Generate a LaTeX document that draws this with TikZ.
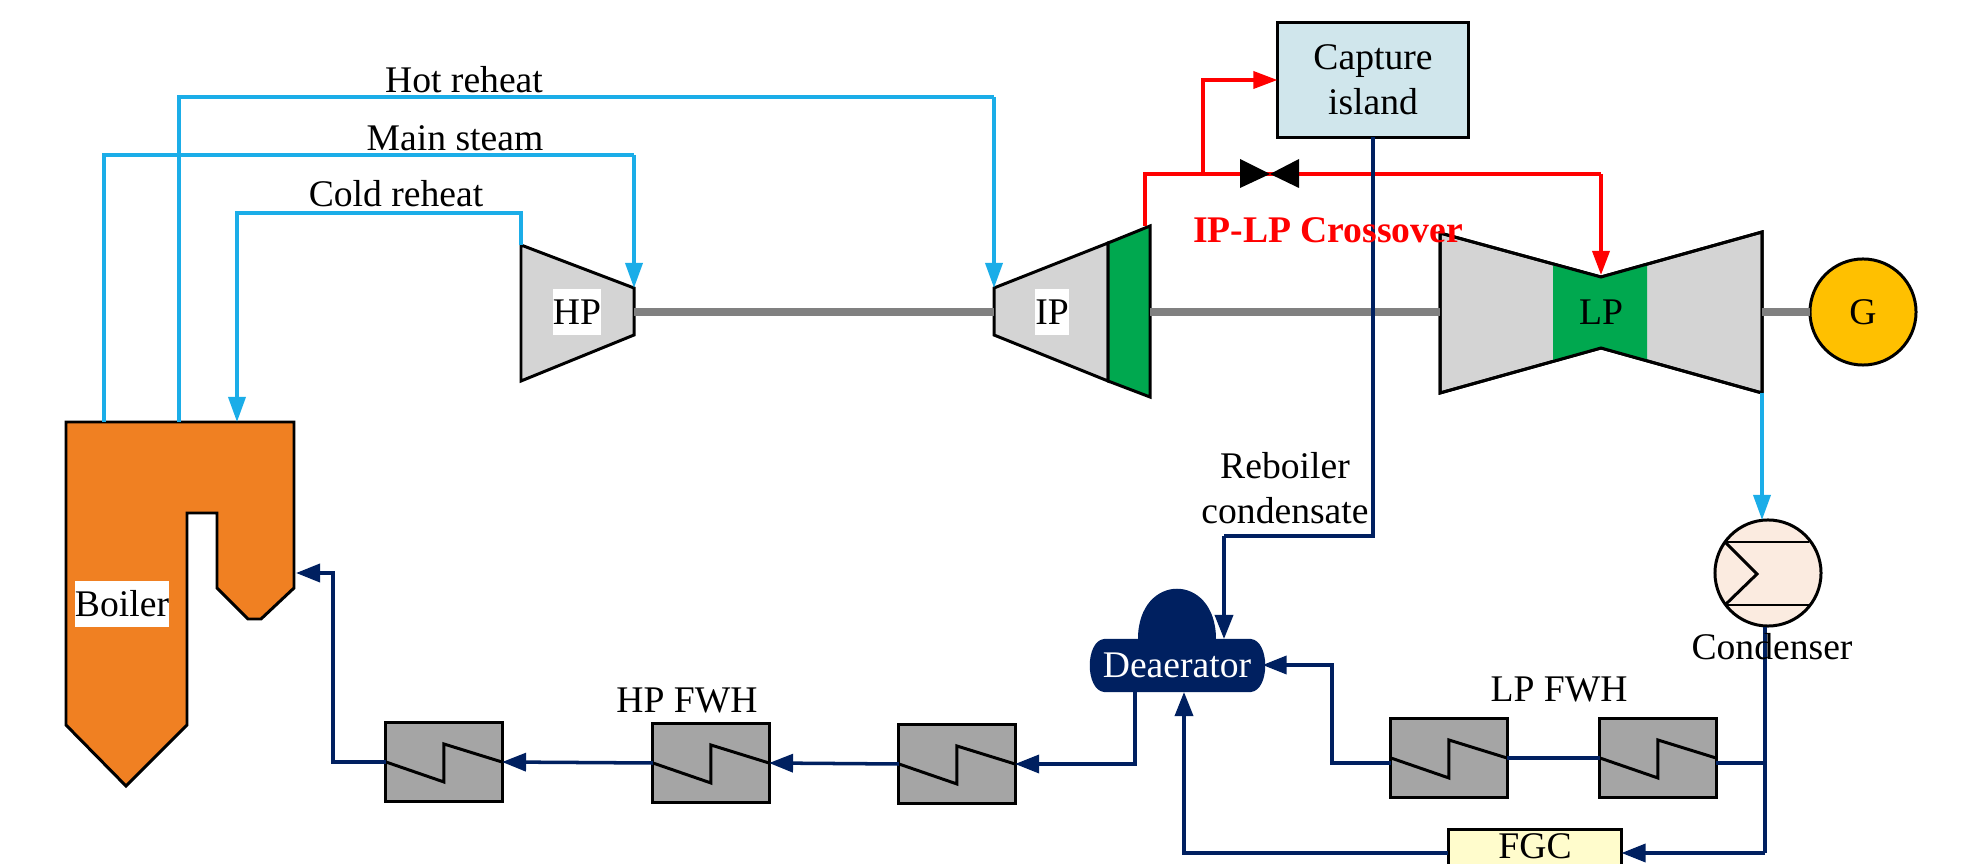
\documentclass[tikz,border=0pt]{standalone}
\usepackage{fontspec}
\setmainfont{Liberation Serif}
\usetikzlibrary{arrows.meta}
\definecolor{steamblue}{HTML}{1BADE8}
\definecolor{feednavy}{HTML}{002060}
\definecolor{boilerorange}{HTML}{F08022}
\definecolor{turbgray}{HTML}{D4D4D4}
\definecolor{turbgreen}{HTML}{00A84F}
\definecolor{fwhgray}{HTML}{A5A5A5}
\definecolor{gengold}{HTML}{FFC000}
\definecolor{capturefill}{HTML}{D0E6EC}
\definecolor{condfill}{HTML}{FBEBE0}
\tikzset{
  steam/.style={line width=1pt, steamblue, -{Triangle[length=0.25cm, width=0.17cm]}},
  steamline/.style={line width=1pt, steamblue},
  feed/.style={line width=1pt, feednavy, -{Triangle[length=0.24cm, width=0.18cm]}},
  feedline/.style={line width=1pt, feednavy},
  xover/.style={line width=1pt, red, -{Triangle[length=0.24cm, width=0.17cm]}},
  xoverline/.style={line width=1pt, red},
  shaft/.style={line width=2pt, black!50},
  outline/.style={draw=black, line width=0.85pt, line join=miter},
  fwh/.style={outline, fill=fwhgray, minimum width=1.16cm, minimum height=0.78cm, inner sep=0pt, outer sep=0pt},
  lbl/.style={font=\fontsize{10.7}{12.8}\selectfont, align=center, inner sep=0pt}
}
\begin{document}
\begin{tikzpicture}[x=0.01cm, y=-0.01cm]
  \useasboundingbox (0,0) rectangle (1966,864);
  \clip (0,0) rectangle (1966,864);
  % Named points on the equipment
  \coordinate (blrmain) at (104,422);
  \coordinate (blrhot) at (179,422);
  \coordinate (blrcold) at (237,422);
  \coordinate (blrfeed) at (296,573);
  \coordinate (hpcold) at (521,245);
  \coordinate (hpmain) at (634,288);
  \coordinate (hpout) at (634,312);
  \coordinate (iphot) at (994,288);
  \coordinate (ipin) at (994,312);
  \coordinate (ipout) at (1150,312);
  \coordinate (ipxover) at (1145,226);
  \coordinate (lpin) at (1440,312);
  \coordinate (lpxover) at (1601,275);
  \coordinate (lpout) at (1762,312);
  \coordinate (lpdrain) at (1762,393);
  \coordinate (redfork) at (1203,174);
  \coordinate (redtop) at (1145,174);
  \coordinate (condout) at (1765,627);
  \coordinate (lpjoin) at (1765,763);
  \coordinate (fgcrow) at (1765,853);
  \coordinate (deadome) at (1224,639);
  \coordinate (deabot) at (1184,692);
  \coordinate (deaout) at (1135,692);
  % Boiler
  \draw[outline, fill=boilerorange] (66,422) -- (294,422) -- (294,588) -- (261,619) -- (248,619)
    -- (217,588) -- (217,513) -- (187,513) -- (187,725) -- (126,786) -- (66,725) -- cycle;
  \node[lbl, fill=white, minimum width=0.94cm, minimum height=0.45cm] (boiler) at (122,604) {Boiler};
  % Turbines
  \draw[outline, fill=turbgray] (521,245) -- (634,288) -- (634,335) -- (521,381) -- cycle;
  \draw[outline, fill=turbgray] (994,288) -- (1108,243) -- (1108,381) -- (994,335) -- cycle;
  \draw[outline, fill=turbgreen] (1108,243) -- (1150,226) -- (1150,397) -- (1108,381) -- cycle;
  \draw[outline, fill=turbgray] (1440,233) -- (1601,277) -- (1762,232) -- (1762,393) -- (1601,348) -- (1440,393) -- cycle;
  \fill[turbgreen] (1553,264) -- (1601,277) -- (1647,264) -- (1647,361) -- (1601,348) -- (1553,361) -- cycle;
  \draw[outline] (1440,233) -- (1601,277) -- (1762,232) -- (1762,393) -- (1601,348) -- (1440,393) -- cycle;
  \node[lbl, fill=white, minimum width=0.47cm, minimum height=0.45cm] (hp) at (577,312) {HP};
  \node[lbl, fill=white, minimum width=0.33cm, minimum height=0.45cm] (ip) at (1052,312) {IP};
  \node[lbl] (lp) at (1601,312) {LP};
  \node[outline, circle, fill=gengold, minimum size=1.06cm, inner sep=0pt, outer sep=0pt, lbl] (gen) at (1863,312) {G};
  % Rotor shaft
  \draw[shaft] (hpout) -- (ipin);
  \draw[shaft] (ipout) -- (lpin);
  \draw[shaft] (lpout) -- (gen.west);
  % Steam lines
  \draw[steamline] (blrhot) |- (464,97) -- (994,97);
  \draw[steam] (994,97) -- (iphot);
  \draw[steamline] (blrmain) |- (634,155);
  \draw[steam] (634,155) -- (hpmain);
  \draw[steam] (hpcold) |- (237,213) -- (blrcold);
  % Crossover
  \draw[xoverline] (ipxover) -- (redtop) -- (1601,174);
  \draw[xover] (1601,174) -- (lpxover);
  \node[outline, minimum width=1.91cm, minimum height=1.14cm, fill=capturefill, inner sep=0pt, outer sep=0pt, lbl] (capture) at (1373,80) {Capture\\[0pt]island};
  \draw[xover] (redfork) |- (capture.west);
  \fill[black] (1240,159) -- (1270,174) -- (1240,188) -- cycle;
  \fill[black] (1299,159) -- (1270,174) -- (1299,188) -- cycle;
  % Condenser
  \node[outline, circle, fill=condfill, minimum size=1.06cm, inner sep=0pt, outer sep=0pt] (cond) at (1768,573) {};
  \draw[outline] (1727,542) -- (1809,542);
  \draw[outline] (1727,605) -- (1809,605);
  \draw[outline] (1725,542) -- (1757,574) -- (1725,605);
  \draw[steam] (lpdrain) -- (lpdrain |- cond.north);
  % Deaerator
  \fill[feednavy] (1138,639) .. controls (1138,572) and (1216,572) .. (1216,639) -- cycle;
  \fill[feednavy] (1104,639) -- (1251,639) .. controls (1270,641) and (1270,690) .. (1251,692)
    -- (1104,692) .. controls (1085,690) and (1085,641) .. (1104,639) -- cycle;
  \node[lbl, white, minimum width=1.71cm, minimum height=0.53cm, outer sep=0pt] (dea) at (1177,665) {Deaerator};
  % Feedwater heaters
  \node[fwh] (hpa) at (444,762) {};
  \node[fwh] (hpb) at (711,763) {};
  \node[fwh] (hpc) at (957,764) {};
  \node[fwh] (lpa) at (1449,758) {};
  \node[fwh] (lpb) at (1658,758) {};
  \foreach \n in {hpa,hpb,hpc,lpa,lpb}
    \draw[outline] (\n.west) -- ++(58,20) -- ++(0,-38) -- (\n.east);
  \node[outline, fill=yellow!20!white, minimum width=1.73cm, minimum height=0.46cm, inner sep=0pt, outer sep=0pt] (fgc) at (1535,853) {};
  \node[lbl] (fgclbl) at (1535,846) {FGC};
  % Condensate and feedwater
  \draw[feedline] (capture.south) -- (1373,536) -- (1224,536);
  \draw[feed] (1224,536) -- (deadome);
  \draw[feedline] (condout) -- (fgcrow);
  \draw[feed] (fgcrow) -- (fgc.east);
  \draw[feed] (fgc.west) -| (deabot);
  \draw[feedline] (lpjoin) -- (lpb.east |- lpjoin);
  \draw[feedline] (lpb.west) -- (lpa.east);
  \draw[feed] (lpa.west |- lpjoin) -- (1332,763) |- (dea.east);
  \draw[feed] (deaout) |- (hpc.east);
  \draw[feed] (hpc.west) -- (hpb.east);
  \draw[feed] (hpb.west) -- (hpa.east);
  \draw[feed] (hpa.west) -- (333,762) |- (blrfeed);
  % Labels
  \node[lbl] (hotlbl) at (464,80) {Hot reheat};
  \node[lbl] (mainlbl) at (455,138) {Main steam};
  \node[lbl] (coldlbl) at (396,194) {Cold reheat};
  \node[lbl, red, font=\fontsize{10.7}{12.8}\selectfont\bfseries] (xlbl) at (1328,230) {IP-LP Crossover};
  \node[lbl] (reblbl) at (1285,488) {Reboiler\\[0pt]condensate};
  \node[lbl] (condlbl) at (1772,647) {Condenser};
  \node[lbl] (hplbl) at (687,700) {HP FWH};
  \node[lbl] (lplbl) at (1559,689) {LP FWH};
\end{tikzpicture}
\end{document}
